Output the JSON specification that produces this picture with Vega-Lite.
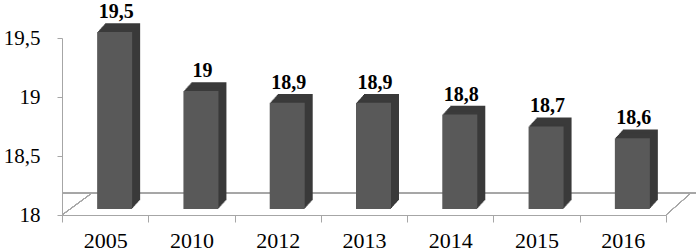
{
  "$schema": "https://vega.github.io/schema/vega-lite/v6.json",
  "width": 604,
  "height": 177,
  "autosize": {"type": "none"},
  "padding": {"left": 62, "top": 38, "right": 30, "bottom": 37},
  "background": "white",
  "data": {"values": [
    {"year": "2005", "value": 19.5},
    {"year": "2010", "value": 19.0},
    {"year": "2012", "value": 18.9},
    {"year": "2013", "value": 18.9},
    {"year": "2014", "value": 18.8},
    {"year": "2015", "value": 18.7},
    {"year": "2016", "value": 18.6}
  ]},
  "encoding": {
    "x": {"field": "year", "type": "nominal", "sort": null,
      "scale": {"type": "band", "domain": ["2005", "2010", "2012", "2013", "2014", "2015", "2016"], "paddingInner": 0, "paddingOuter": 0},
      "axis": {"title": null, "labelAngle": 0, "labelFont": "'Liberation Serif', serif", "labelFontSize": 22, "labelColor": "#000000",
        "domainColor": "#a6a6a6", "tickColor": "#a6a6a6", "tickBand": "extent", "tickSize": 7, "labelPadding": 8}},
    "y": {"field": "value", "type": "quantitative",
      "scale": {"domain": [18, 19.5], "zero": false, "nice": false},
      "axis": {"title": null, "values": [18, 18.5, 19, 19.5], "labelExpr": "replace(toString(datum.value), '.', ',')",
        "labelFont": "'Liberation Serif', serif", "labelFontSize": 21, "labelColor": "#000000", "grid": false,
        "domainColor": "#a6a6a6", "tickColor": "#a6a6a6", "tickSize": 5, "labelPadding": 17}}
  },
  "layer": [
    {"mark": {"type": "rule", "color": "#a6a6a6", "strokeWidth": 1, "yOffset": -22, "xOffset": 30, "x2Offset": 25},
     "encoding": {"x": null, "y": {"datum": 18}}},
    {"mark": {"type": "rule", "color": "#a6a6a6", "strokeWidth": 1, "x2Offset": 30, "y2Offset": -22},
     "encoding": {"x": {"datum": "2005", "bandPosition": 0}, "x2": {"datum": "2005", "bandPosition": 0}, "y": {"datum": 18}, "y2": {"datum": 18}}},
    {"mark": {"type": "rule", "color": "#a6a6a6", "strokeWidth": 1, "x2Offset": 25, "y2Offset": -22},
     "encoding": {"x": {"datum": "2016", "bandPosition": 1}, "x2": {"datum": "2016", "bandPosition": 1}, "y": {"datum": 18}, "y2": {"datum": 18}}},
    {"mark": {"type": "bar", "size": 35, "color": "#3a3a3a", "xOffset": 17.5, "yOffset": -14.8, "y2Offset": -14.8}, "encoding": {"y2": {"datum": 18}}},
    {"mark": {"type": "bar", "size": 35, "color": "#3a3a3a", "xOffset": 16.5, "yOffset": -13.7, "y2Offset": -13.7}, "encoding": {"y2": {"datum": 18}}},
    {"mark": {"type": "bar", "size": 35, "color": "#3a3a3a", "xOffset": 15.5, "yOffset": -12.6, "y2Offset": -12.6}, "encoding": {"y2": {"datum": 18}}},
    {"mark": {"type": "bar", "size": 35, "color": "#3a3a3a", "xOffset": 14.5, "yOffset": -11.5, "y2Offset": -11.5}, "encoding": {"y2": {"datum": 18}}},
    {"mark": {"type": "bar", "size": 35, "color": "#3a3a3a", "xOffset": 13.5, "yOffset": -10.4, "y2Offset": -10.4}, "encoding": {"y2": {"datum": 18}}},
    {"mark": {"type": "bar", "size": 35, "color": "#3a3a3a", "xOffset": 12.5, "yOffset": -9.3, "y2Offset": -9.3}, "encoding": {"y2": {"datum": 18}}},
    {"mark": {"type": "bar", "size": 35, "color": "#3a3a3a", "xOffset": 11.5, "yOffset": -8.2, "y2Offset": -8.2}, "encoding": {"y2": {"datum": 18}}},
    {"mark": {"type": "bar", "size": 35, "color": "#3a3a3a", "xOffset": 10.5, "yOffset": -7.1, "y2Offset": -7.1}, "encoding": {"y2": {"datum": 18}}},
    {"mark": {"type": "bar", "size": 35, "color": "#595959", "xOffset": 9.5, "yOffset": -6, "y2Offset": -6}, "encoding": {"y2": {"datum": 18}}},
    {"mark": {"type": "text", "font": "'Liberation Serif', serif", "fontSize": 20, "fontWeight": "bold", "color": "#000000", "baseline": "alphabetic", "align": "center", "xOffset": 11, "yOffset": -20},
     "encoding": {"text": {"field": "value", "type": "quantitative", "format": "~g"}}}
  ],
  "config": {
    "font": "'Liberation Serif', serif",
    "view": {"stroke": null},
    "locale": {"number": {"decimal": ",", "thousands": " ", "grouping": [3], "currency": ["", ""]}}
  }
}
